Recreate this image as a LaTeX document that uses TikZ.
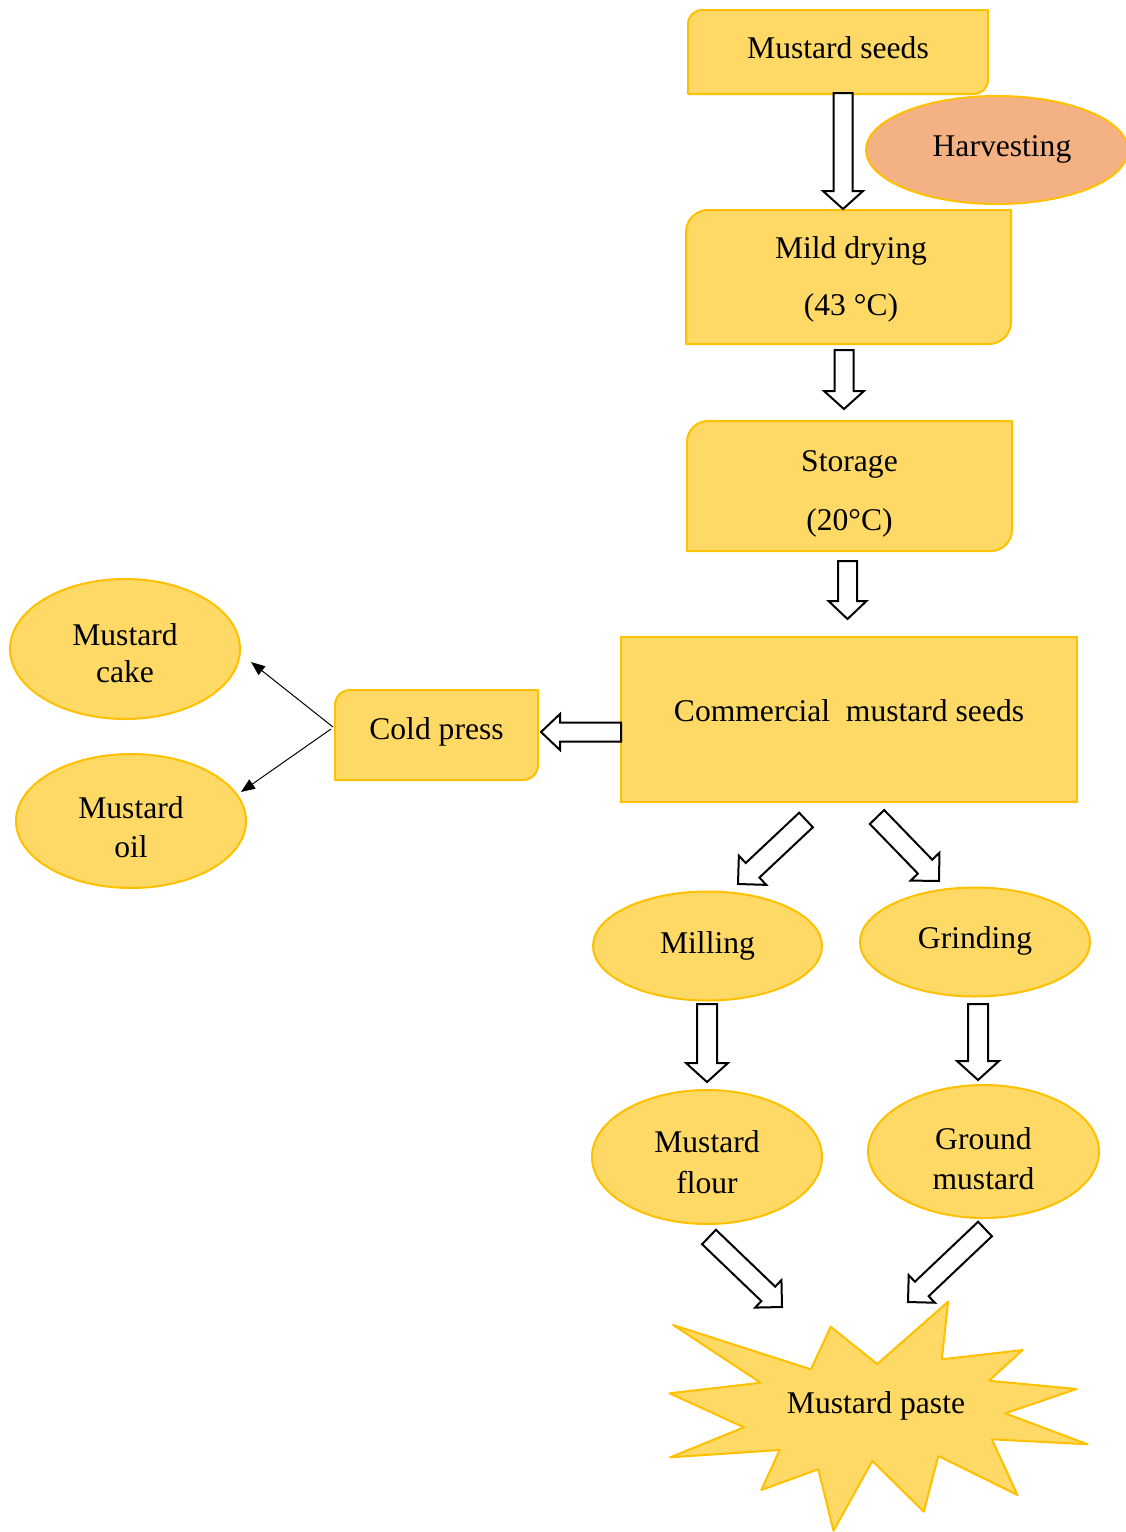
\documentclass[tikz,border=0pt]{standalone}
\usepackage{fontspec}
\setmainfont{Liberation Serif}
\usetikzlibrary{shapes.geometric,calc,arrows.meta,backgrounds}
\definecolor{fillY}{HTML}{FFD966}
\definecolor{lineY}{HTML}{FFC000}
\definecolor{fillO}{HTML}{F4B183}
\tikzset{
  txt/.style={font=\fontsize{31.6}{38}\selectfont, align=center, inner sep=0pt, outer sep=0pt, text=black},
  ell/.style={txt, ellipse, draw=lineY, fill=fillY, line width=2pt},
  boxn/.style={txt, rectangle},
  boxbg/.style={draw=lineY, fill=fillY, line width=2pt, line join=round},
  blockarr/.style={draw=black, fill=white, line width=2pt, line join=miter},
  thinarr/.style={draw=black, line width=1pt, -{Triangle[length=14pt,width=11pt]}},
  tup/.style={text height=21.7pt, text depth=#1},
}
% block arrow: tail, tip, shaft half width, head half width, head length
\newcommand{\BArrow}[5]{%
  \coordinate (bah) at ($(#2)!#5!(#1)$);
  \draw[blockarr] ($(#1)!#3!90:(#2)$) -- ($(bah)!#3!-90:(#1)$) -- ($(bah)!#4!-90:(#1)$) -- (#2)
    -- ($(bah)!#4!90:(#1)$) -- ($(bah)!#3!90:(#1)$) -- ($(#1)!#3!-90:(#2)$) -- cycle;
}
% box with rounded top-left and bottom-right corners: node, radius, control offset
\newcommand{\RBox}[3]{%
  \begin{scope}[on background layer]
  \draw[boxbg] (#1.south west) -- ([yshift=-#2]#1.north west)
    .. controls ([yshift=-#3]#1.north west) and ([xshift=#3]#1.north west) .. ([xshift=#2]#1.north west)
    -- (#1.north east) -- ([yshift=#2]#1.south east)
    .. controls ([yshift=#3]#1.south east) and ([xshift=-#3]#1.south east) .. ([xshift=-#2]#1.south east)
    -- cycle;
  \end{scope}}
\begin{document}
\begin{tikzpicture}[x=1pt,y=-1pt]
\useasboundingbox (0,0) rectangle (1126,1532);

% boxes
\node[boxn, minimum width=300pt, minimum height=84pt, tup=9.1pt] (seeds) at (838,52) {Mustard seeds};
\RBox{seeds}{14pt}{6.3pt}
\node[boxn, minimum width=325pt, minimum height=134pt] (dry) at (848.5,277) {\rule{0pt}{27pt}\hspace*{5pt}Mild drying\\[19pt]\hspace*{5pt}(43 °C)};
\RBox{dry}{22pt}{9.9pt}
\node[boxn, minimum width=325pt, minimum height=130pt] (stor) at (849.5,486) {\rule{0pt}{37pt}Storage\\[21pt](20°C)};
\RBox{stor}{21pt}{9.45pt}
\node[boxn, draw=lineY, fill=fillY, line width=2pt, minimum width=456pt, minimum height=165pt, tup=18.1pt] (comm) at (849,719.5) {Commercial\ \ mustard seeds};
\node[boxn, minimum width=203pt, minimum height=90pt, tup=13.1pt] (cold) at (436.5,735) {Cold press};
\RBox{cold}{15pt}{6.75pt}

% ellipses
\node[ell, fill=fillO, minimum width=262pt, minimum height=108pt, tup=9.1pt] (harv) at (997,150) {\hspace*{10pt}Harvesting};
\node[ell, minimum width=230pt, minimum height=140pt] (cake) at (125,649) {\rule{0pt}{29.6pt}Mustard\\[-1pt]cake};
\node[ell, minimum width=230pt, minimum height=134pt] (oil) at (131,821) {\rule{0pt}{33.6pt}Mustard\\[1pt]oil};
\node[ell, minimum width=229pt, minimum height=109pt, tup=7.1pt] (mill) at (707.5,946) {Milling};
\node[ell, minimum width=230pt, minimum height=109pt, tup=9.1pt] (grind) at (975,942) {Grinding};
\node[ell, minimum width=230pt, minimum height=134pt] (flour) at (707,1157) {\rule{0pt}{31.6pt}Mustard\\[3pt]flour};
\node[ell, minimum width=231pt, minimum height=133pt] (ground) at (983.5,1151.5) {\rule{0pt}{35.6pt}Ground\\[2pt]mustard};

% starburst
\draw[boxbg] (673.1,1325) -- (810.9,1369.3) -- (830.7,1326.7) -- (877.2,1364) -- (948.1,1301.7)
  -- (941.8,1359.3) -- (1022.7,1350) -- (989,1380.7) -- (1076.5,1389) -- (1005.3,1413.3)
  -- (1087.6,1444.3) -- (991.8,1439.3) -- (1017.5,1495) -- (938.3,1456) -- (923.8,1511.7)
  -- (872.4,1461) -- (833.5,1530.7) -- (818.2,1469.3) -- (761.3,1490) -- (779.7,1450)
  -- (670.3,1457.3) -- (743.9,1427.3) -- (669.6,1393.3) -- (760.6,1382.7) -- cycle;
\node[txt, tup=1.1pt] (paste) at (876,1403) {Mustard paste};

% arrow end coordinates
\coordinate (a1t) at (843,93);    \coordinate (a1h) at (843,209);
\coordinate (a2t) at (844,350);   \coordinate (a2h) at (844,409);
\coordinate (a3t) at (847.5,561); \coordinate (a3h) at (847.5,619);
\coordinate (a4t) at (621,732);   \coordinate (a4h) at (541,732);
\coordinate (a5t) at (806,820);   \coordinate (a5h) at (738,884);
\coordinate (a6t) at (877,817);   \coordinate (a6h) at (939,881);
\coordinate (a7t) at (707,1004);  \coordinate (a7h) at (707,1082);
\coordinate (a8t) at (978,1004);  \coordinate (a8h) at (978,1080);
\coordinate (a9t) at (709,1237);  \coordinate (a9h) at (782,1307);
\coordinate (a10t) at (985,1229); \coordinate (a10h) at (908,1302);
\coordinate (cpo1) at (333,727);  \coordinate (cakein) at (251,662);
\coordinate (cpo2) at (331,729);  \coordinate (oilin) at (241,792);

\BArrow{a1t}{a1h}{9.5pt}{20pt}{18pt}
\BArrow{a2t}{a2h}{9.5pt}{20pt}{18pt}
\BArrow{a3t}{a3h}{9.5pt}{19pt}{18pt}
\BArrow{a4t}{a4h}{9.5pt}{18pt}{19pt}
\BArrow{a5t}{a5h}{10pt}{20pt}{20pt}
\BArrow{a6t}{a6h}{10pt}{20pt}{20pt}
\BArrow{a7t}{a7h}{10pt}{21pt}{19pt}
\BArrow{a8t}{a8h}{10pt}{21pt}{19pt}
\BArrow{a9t}{a9h}{10pt}{19pt}{19pt}
\BArrow{a10t}{a10h}{10pt}{19pt}{19pt}

\draw[thinarr] (cpo1) -- (cakein);
\draw[thinarr] (cpo2) -- (oilin);
\end{tikzpicture}
\end{document}
